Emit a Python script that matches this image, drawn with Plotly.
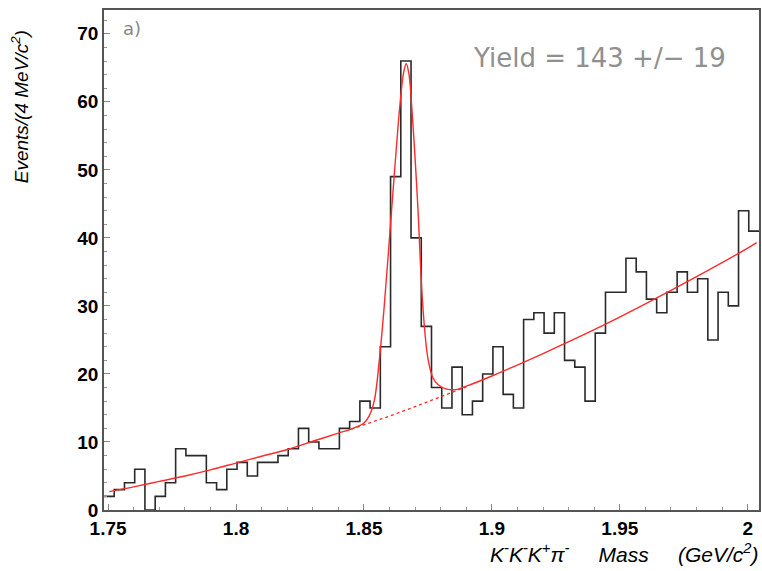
import plotly.graph_objects as go

# Histogram: 64 bins of 4 MeV
bin_lo = 1.7484
bin_width = 0.004
counts = [2, 3, 4, 6, 0, 2, 4, 9, 8, 8, 4, 3, 6, 7, 5, 7,
          7, 8, 9, 12, 10, 9, 9, 12, 13, 16, 15, 24, 49, 66, 40, 27,
          18, 15, 21, 14, 16, 20, 24, 17, 15, 28, 29, 26, 29, 22, 21, 16,
          26, 32, 32, 37, 35, 31, 29, 32, 35, 32, 34, 25, 32, 30, 44, 41]

# Fit curve (signal + background)
fit_x = [1.7505, 1.76, 1.77, 1.78, 1.79, 1.80, 1.81, 1.82, 1.83, 1.84, 1.845,
         1.85, 1.852, 1.854, 1.856, 1.858, 1.860, 1.862, 1.864, 1.8655, 1.8665,
         1.8675, 1.869, 1.871, 1.873, 1.875, 1.877, 1.879, 1.882, 1.886, 1.89,
         1.90, 1.92, 1.94, 1.96, 1.98, 2.0, 2.0035]
fit_y = [2.7, 3.4, 4.2, 5.0, 5.9, 6.9, 7.9, 8.9, 10.1, 11.3, 11.9,
         12.8, 13.8, 16.0, 22.0, 30.3, 40.1, 50.0, 59.3, 64.3, 65.6,
         64.3, 57.5, 45.0, 30.0, 22.3, 19.4, 18.4, 17.8, 17.7, 18.2,
         19.7, 23.0, 26.5, 30.3, 34.3, 38.5, 39.3]

# Background only (dotted under the peak)
bkg_x = [1.845, 1.85, 1.86, 1.87, 1.88, 1.89]
bkg_y = [11.9, 12.5, 13.8, 15.2, 16.6, 18.1]

edges = [bin_lo + bin_width * i for i in range(len(counts) + 1)]
step_y = counts + [counts[-1]]

fig = go.Figure()
fig.add_trace(go.Scatter(x=edges, y=step_y, mode="lines", line_shape="hv",
                         line=dict(color="#2a2a2a", width=1.6), hoverinfo="skip"))
fig.add_trace(go.Scatter(x=bkg_x, y=bkg_y, mode="lines",
                         line=dict(color="#ff2a2a", width=1.3, dash="dot"), hoverinfo="skip"))
fig.add_trace(go.Scatter(x=fit_x, y=fit_y, mode="lines", line_shape="spline",
                         line=dict(color="#ff2a2a", width=1.4), hoverinfo="skip"))

tickfont = dict(family="Liberation Sans", size=19, color="black", weight="bold")

fig.update_layout(
    width=762, height=571,
    margin=dict(l=104, r=1, t=10, b=61),
    paper_bgcolor="white", plot_bgcolor="white",
    showlegend=False,
    xaxis=dict(range=[bin_lo, bin_lo + 0.256], showgrid=False, zeroline=False,
               showline=True, linecolor="#555555", linewidth=1.6, mirror=True,
               ticks="inside", ticklen=6, tickcolor="#888888",
               tickvals=[1.75, 1.8, 1.85, 1.9, 1.95, 2.0],
               ticktext=["1.75", "1.8", "1.85", "1.9", "1.95", "2"],
               minor=dict(ticks="inside", ticklen=3, dtick=0.01, tick0=1.75, tickcolor="#999999"),
               tickfont=tickfont),
    yaxis=dict(range=[0, 73.5], showgrid=False, zeroline=False,
               showline=True, linecolor="#555555", linewidth=1.6, mirror=True,
               ticks="inside", ticklen=6, tickcolor="#888888",
               tick0=0, dtick=10,
               minor=dict(ticks="inside", ticklen=3, dtick=2, tickcolor="#999999"),
               tickfont=tickfont),
)

fig.add_annotation(xref="paper", yref="paper", x=(20 - 104) / 657, y=(510 - 107) / 500,
                   text="Events/(4 MeV/c<sup>2</sup>)", textangle=-90, showarrow=False,
                   xanchor="center", yanchor="middle",
                   font=dict(family="Liberation Sans", size=19, color="black", style="italic"))
fig.add_annotation(xref="paper", yref="paper", x=(762 - 104) / 657, y=(510 - 553) / 500,
                   text="K<sup>-</sup>K<sup>-</sup>K<sup>+</sup>π<sup>-</sup>\u00a0\u00a0\u00a0\u00a0 Mass \u00a0\u00a0\u00a0\u00a0(GeV/c<sup>2</sup>)",
                   showarrow=False, xanchor="right", yanchor="middle",
                   font=dict(family="Liberation Sans", size=21, color="black", style="italic"))
fig.add_annotation(xref="paper", yref="paper", x=(121 - 104) / 657, y=(510 - 28) / 500,
                   text="a)", showarrow=False, xanchor="left", yanchor="middle",
                   font=dict(family="DejaVu Sans", size=18, color="#888888"))
fig.add_annotation(xref="paper", yref="paper", x=(601 - 104) / 657, y=(510 - 58) / 500,
                   text="Yield = 143 +/\u2212 19", showarrow=False, xanchor="center", yanchor="middle",
                   font=dict(family="DejaVu Sans", size=26, color="#909090"))

fig.write_html("out.html")
